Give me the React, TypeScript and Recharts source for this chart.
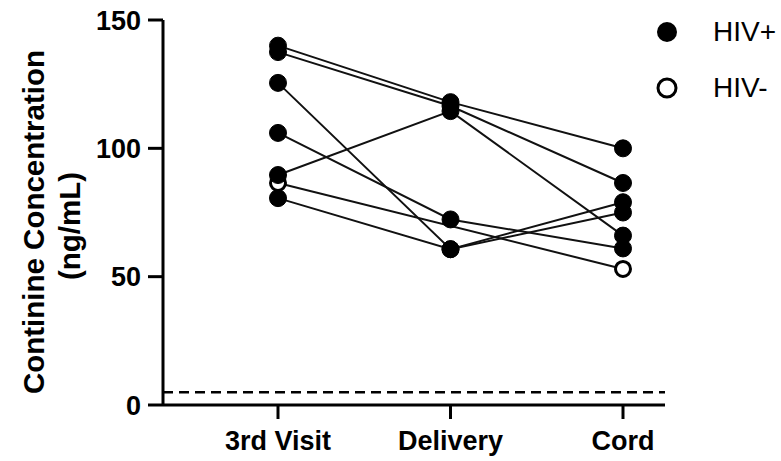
import React from 'react';
import {
  LineChart,
  Line,
  XAxis,
  YAxis,
  ReferenceLine,
} from 'recharts';

const categories = ['3rd Visit', 'Delivery', 'Cord'];

// one array per participant: [3rd visit, delivery, cord]
const hivPos1 = [140, 118, 100];
const hivPos2 = [137.5, 116.5, 86.5];
const hivPos3 = [125.5, 60.7, 79];
const hivPos4 = [106, 72.3, 61];
const hivPos5 = [89.6, 114.5, 66];
const hivPos6 = [80.6, 60.7, 75];
const hivNeg1 = [86.5, null, 53];

const yTicks = [0, 50, 100, 150];
const detectionLimit = 5;

const positives = [hivPos1, hivPos2, hivPos3, hivPos4, hivPos5, hivPos6];

const data = categories.map((name, i) => {
  const row: Record<string, string | number | null> = { name, neg1: hivNeg1[i] };
  positives.forEach((s, j) => {
    row['pos' + (j + 1)] = s[i];
  });
  return row;
});

const FONT = '"Liberation Sans", Arial, Helvetica, sans-serif';

const YTitle = () => (
  <g>
    <text
      x={33}
      y={222}
      transform="rotate(-90, 33, 222)"
      textAnchor="middle"
      dominantBaseline="central"
      fontFamily={FONT}
      fontWeight="bold"
      fontSize={29.5}
      fill="#000"
    >
      Continine Concentration
    </text>
    <text
      x={69}
      y={226}
      transform="rotate(-90, 69, 226)"
      textAnchor="middle"
      dominantBaseline="central"
      fontFamily={FONT}
      fontWeight="bold"
      fontSize={29.5}
      fill="#000"
    >
      (ng/mL)
    </text>
  </g>
);

const LegendBox = () => (
  <div
    style={{
      position: 'absolute',
      left: 655,
      top: 4,
      width: 126,
      fontFamily: FONT,
      fontSize: 28,
      color: '#000',
    }}
  >
    <div style={{ display: 'flex', alignItems: 'center', height: 56 }}>
      <svg width={24} height={24} style={{ marginRight: 34 }}>
        <circle cx={12} cy={12} r={10} fill="#000" />
      </svg>
      <span>HIV+</span>
    </div>
    <div style={{ display: 'flex', alignItems: 'center', height: 56 }}>
      <svg width={24} height={24} style={{ marginRight: 34 }}>
        <circle cx={12} cy={12} r={9} fill="#fff" stroke="#000" strokeWidth={3} />
      </svg>
      <span>HIV-</span>
    </div>
  </div>
);

const tickStyle = { fontFamily: FONT, fontWeight: 'bold', fontSize: 27, fill: '#000' };

export default function App() {
  return (
    <div style={{ position: 'absolute', left: 0, top: 0, width: 781, height: 461, background: '#fff' }}>
      <LineChart
        width={781}
        height={461}
        data={data}
        margin={{ top: 20, right: 116, bottom: 6, left: 0 }}
      >
        <XAxis
          dataKey="name"
          interval={0}
          height={50}
          padding={{ left: 115, right: 42 }}
          tickSize={14}
          tickMargin={12}
          tick={tickStyle}
          axisLine={{ stroke: '#000', strokeWidth: 3 }}
          tickLine={{ stroke: '#000', strokeWidth: 3 }}
        />
        <YAxis
          domain={[0, 150]}
          ticks={yTicks}
          width={163}
          tickSize={15}
          tickMargin={7}
          tick={tickStyle}
          axisLine={{ stroke: '#000', strokeWidth: 3 }}
          tickLine={{ stroke: '#000', strokeWidth: 3 }}
          label={{ content: () => <YTitle /> }}
        />
        <ReferenceLine
          y={detectionLimit}
          stroke="#000"
          strokeWidth={2.5}
          strokeDasharray="10 6"
        />
        <Line
          dataKey="neg1"
          type="linear"
          connectNulls
          stroke="#111"
          strokeWidth={2}
          dot={{ r: 7.5, fill: '#fff', stroke: '#000', strokeWidth: 3 }}
          isAnimationActive={false}
        />
        {positives.map((_, j) => (
          <Line
            key={j}
            dataKey={'pos' + (j + 1)}
            type="linear"
            stroke="#111"
            strokeWidth={2}
            dot={{ r: 8.5, fill: '#000', stroke: '#000', strokeWidth: 1 }}
            isAnimationActive={false}
          />
        ))}
      </LineChart>
      <LegendBox />
    </div>
  );
}
